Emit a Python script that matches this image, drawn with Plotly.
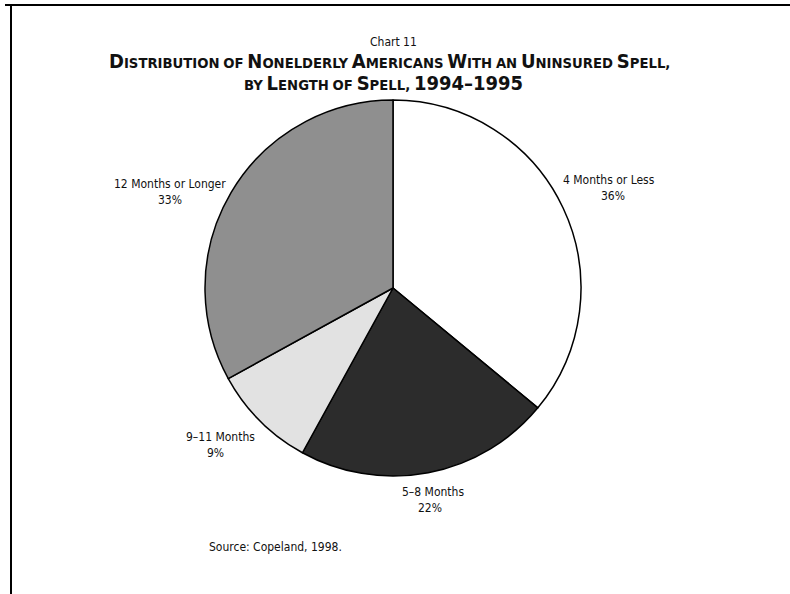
import plotly.graph_objects as go

categories = ["4 Months or Less", "5\u20138 Months", "9\u201311 Months", "12 Months or Longer"]
values = [36, 22, 9, 33]
colors = ["#ffffff", "#2c2c2c", "#e2e2e2", "#8f8f8f"]

W, H = 790, 594
FONT = "Liberation Sans Narrow, DejaVu Sans Condensed, Arial Narrow, sans-serif"

cx, cy, r = 393, 288, 188

fig = go.Figure(go.Pie(
    labels=categories,
    values=values,
    sort=False,
    direction="clockwise",
    rotation=0,
    marker=dict(colors=colors, line=dict(color="#000000", width=1.5)),
    textinfo="none",
    hoverinfo="label+percent",
    showlegend=False,
    domain=dict(x=[(cx - r) / W, (cx + r) / W], y=[1 - (cy + r) / H, 1 - (cy - r) / H]),
))

def sc(text, big=20, small=14.7):
    out = []
    for word in text.split(" "):
        if word and word[0].isalpha():
            if word[0].islower():
                out.append(f"<span style='font-size:{small}px'>{word.upper()}</span>")
            else:
                out.append(f"<span style='font-size:{big}px'>{word[0]}</span><span style='font-size:{small}px'>{word[1:].upper()}</span>")
        else:
            out.append(f"<span style='font-size:{big}px'>{word}</span>")
    return " ".join(out)

title1 = "Distribution of Nonelderly Americans With an Uninsured Spell,"
title2 = "by Length of Spell, 1994\u20131995"

def ann(x, y, text, size=12, xanchor="center"):
    fig.add_annotation(x=x / W, y=1 - y / H, xref="paper", yref="paper", text=text,
                       showarrow=False, xanchor=xanchor, yanchor="middle",
                       font=dict(family=FONT, size=size, color="#111111"))

ann(393, 42, "Chart 11", size=12)
ann(389, 61, "<b>" + sc(title1) + "</b>")
ann(383, 83, "<b>" + sc(title2) + "</b>")

# slice labels
ann(170, 184, "12 Months or Longer")
ann(170, 200, "33%")
ann(609, 180, "4 Months or Less")
ann(613, 196, "36%")
ann(220, 437, "9\u201311 Months")
ann(215, 453, "9%")
ann(433, 492, "5\u20138 Months")
ann(430, 508, "22%")
ann(207, 547, "Source: Copeland, 1998.", xanchor="left")

# frame lines
fig.add_shape(type="line", xref="paper", yref="paper", x0=5 / W, x1=1, y0=1 - 5 / H, y1=1 - 5 / H,
              line=dict(color="#000000", width=2))
fig.add_shape(type="line", xref="paper", yref="paper", x0=11 / W, x1=11 / W, y0=1 - 5 / H, y1=0,
              line=dict(color="#000000", width=2))

fig.update_layout(width=W, height=H, margin=dict(l=0, r=0, t=0, b=0),
                  paper_bgcolor="white", plot_bgcolor="white", font=dict(family=FONT))
fig.write_html("out.html", config={"displayModeBar": False},
               post_script="document.body.style.margin='0px';")
